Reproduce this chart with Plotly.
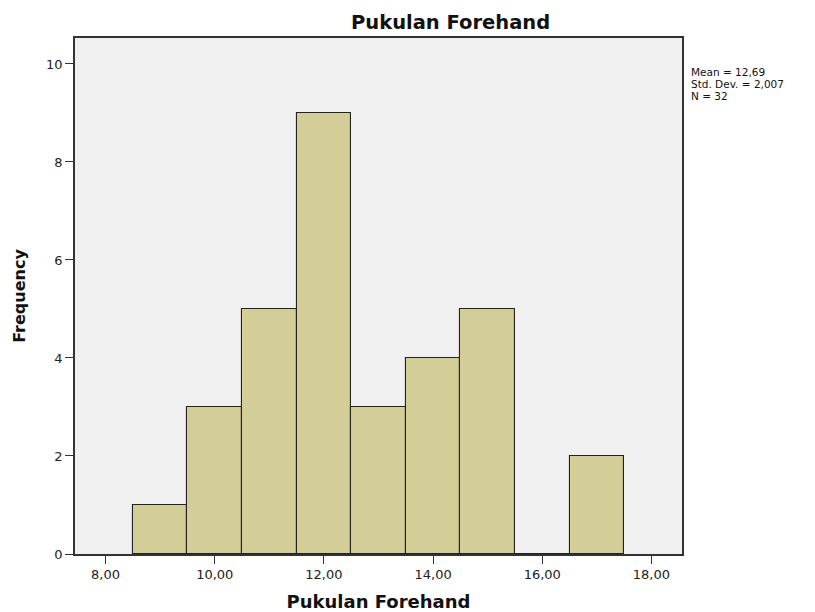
import plotly.graph_objects as go

bin_centers = [9, 10, 11, 12, 13, 14, 15, 16, 17]
frequencies = [1, 3, 5, 9, 3, 4, 5, 0, 2]
x_ticks = [8, 10, 12, 14, 16, 18]
y_ticks = [0, 2, 4, 6, 8, 10]
title = "Pukulan Forehand"
x_title = "Pukulan Forehand"
y_title = "Frequency"
stats_lines = ["Mean = 12,69", "Std. Dev. = 2,007", "N = 32"]

FONT = "DejaVu Sans, Verdana, sans-serif"

fig = go.Figure()
fig.add_trace(go.Bar(
    x=bin_centers, y=frequencies, width=1,
    marker=dict(color="#D3CE97", line=dict(color="#222", width=1.1)),
    showlegend=False, hoverinfo="x+y",
))

# page body has an 8px margin; sizes below are chosen so the plot lands where the reference shows it
fig.update_layout(
    width=807, height=604,
    margin=dict(l=67, r=133, t=30, b=58, autoexpand=False),
    paper_bgcolor="white", plot_bgcolor="#F0F0F0",
    separators=",.",
    font=dict(family=FONT, size=11, color="#222"),
    bargap=0,
    xaxis=dict(
        range=[7.44, 18.56], tickvals=x_ticks, tickformat=".2f",
        showgrid=False, zeroline=False, automargin=False,
        showline=True, linecolor="#333", linewidth=1.5, mirror=True,
        ticks="outside", ticklen=8, tickcolor="#333", tickwidth=1,
        tickfont=dict(size=13, family=FONT, color="#222"),
        title=dict(text=x_title, font=dict(size=18, family=FONT, color="#111", weight="bold"), standoff=18),
    ),
    yaxis=dict(
        range=[0, 10.53], tickvals=y_ticks,
        showgrid=False, zeroline=False, automargin=False,
        showline=True, linecolor="#333", linewidth=1.5, mirror=True,
        ticks="outside", ticklen=8, tickcolor="#333", tickwidth=1,
        tickfont=dict(size=13, family=FONT, color="#222"),
        title=dict(text=y_title, font=dict(size=16, family=FONT, color="#111", weight="bold"), standoff=17),
    ),
)

fig.add_annotation(text=title, xref="paper", yref="paper", x=0.618, y=1.0, yshift=16,
                   xanchor="center", yanchor="middle", showarrow=False,
                   font=dict(size=19.5, family=FONT, color="#111", weight="bold"))
for i, line in enumerate(stats_lines):
    fig.add_annotation(text=line, xref="paper", yref="paper", x=1.0, xshift=7, y=1.0,
                       yshift=-(34 + 12 * i), xanchor="left", yanchor="middle", align="left",
                       showarrow=False, font=dict(size=10.5, family=FONT, color="#111"))

fig.write_html("out.html")
